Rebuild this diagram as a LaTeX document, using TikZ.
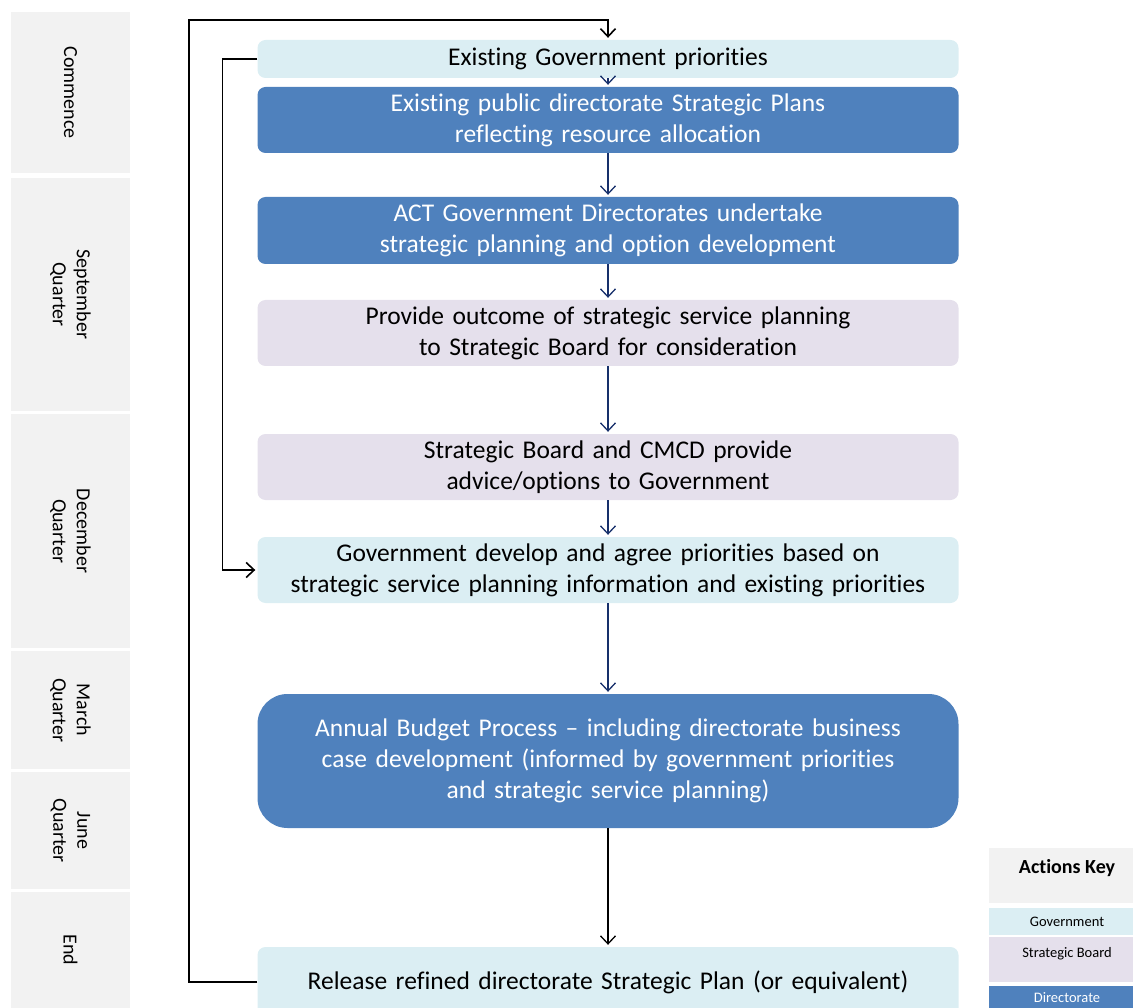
\documentclass[tikz,border=0pt]{standalone}
\usepackage{fontspec}
\setmainfont{Carlito}[Ligatures={NoCommon,NoDiscretionary,NoContextual}]
\usetikzlibrary{arrows.meta}
\definecolor{dirblue}{HTML}{4F81BD}
\definecolor{govblue}{HTML}{DBEEF3}
\definecolor{boardlilac}{HTML}{E5E0EC}
\definecolor{periodgrey}{HTML}{F2F2F2}
\definecolor{navy}{HTML}{17306B}

\begin{document}
\begin{tikzpicture}[x=1pt,y=-1pt,>={Straight Barb[length=8pt,width=15pt]},
  stage/.style={rounded corners=8pt,minimum width=701pt,text width=690pt,inner sep=0pt,align=center,font=\fontsize{25.5}{31}\selectfont},
  gov/.style={stage,fill=govblue},
  board/.style={stage,fill=boardlilac},
  dir/.style={stage,fill=dirblue,text=white},
  flow/.style={->,draw=navy,line width=1.3pt,shorten >=2pt},
  loop/.style={->,line width=1.6pt},
  period/.style={fill=periodgrey,rotate=-90,minimum height=119pt,inner sep=0pt,align=center,font=\fontsize{20}{24}\selectfont},
  key/.style={minimum width=156pt,inner sep=0pt,align=center,font=\fontsize{14.5}{17}\selectfont}]
\useasboundingbox (0,0) rectangle (1133,1008);

% time periods down the left
\foreach \nm/\ya/\yb/\txt in {commence/12/173/Commence,sepq/178/411/{September\\Quarter},
  decq/414/648/{December\\Quarter},marq/651/769/{March\\Quarter},
  junq/772/889/{June\\Quarter},endq/892/1008/End}{
  \node[period,minimum width=\yb pt-\ya pt] (\nm) at (70.5,{(\ya+\yb)/2}) {\txt};
}

% process steps
\node[gov,minimum height=38pt] (prior) at (608,59) {Existing Government priorities};
\node[dir,minimum height=66pt] (plans) at (608,120) {Existing public directorate Strategic Plans\\reflecting resource allocation};
\node[dir,minimum height=67pt] (undertake) at (608,230.5) {ACT Government Directorates undertake\\strategic planning and option development};
\node[board,minimum height=66pt] (outcome) at (608,333) {Provide outcome of strategic service planning\\to Strategic Board for consideration};
\node[board,minimum height=66pt] (advice) at (608,467) {Strategic Board and CMCD provide\\advice/options to Government};
\node[gov,minimum height=66pt] (agree) at (608,570) {Government develop and agree priorities based on\\strategic service planning information and existing priorities};
\node[dir,minimum height=134pt,rounded corners=30pt] (budget) at (608,761) {Annual Budget Process -- including directorate business\\case development (informed by government priorities\\and strategic service planning)};
\node[gov,minimum height=70pt] (release) at (608,982) {Release refined directorate Strategic Plan (or equivalent)};

\draw[flow] (prior) -- (plans);
\draw[flow] (plans) -- (undertake);
\draw[flow] (undertake) -- (outcome);
\draw[flow] (outcome) -- (advice);
\draw[flow] (advice) -- (agree);
\draw[flow] (agree) -- (budget);
\draw[flow,draw=black] (budget) -- (release);

% feedback loops
\coordinate (topcorner) at (189,20);
\coordinate (feedback) at ([xshift=-35pt]prior.west);
\draw[loop,shorten >=2pt] (release.west) -| (topcorner) -| (prior.north);
\draw[loop,shorten >=2pt] (prior.west) -- (feedback) |- (agree.west);

% actions key
\node[key,fill=periodgrey,minimum height=55pt,text depth=18pt,font=\fontsize{20}{24}\selectfont\bfseries] (keytitle) at (1067,875.5) {Actions Key};
\node[key,fill=govblue,minimum height=27pt] (keygov) at (1067,921.5) {Government};
\node[key,fill=boardlilac,minimum height=45pt,text depth=14pt] (keyboard) at (1067,959.5) {Strategic Board};
\node[key,fill=dirblue,text=white,minimum height=24pt] (keydir) at (1067,998) {Directorate};
\end{tikzpicture}
\end{document}
